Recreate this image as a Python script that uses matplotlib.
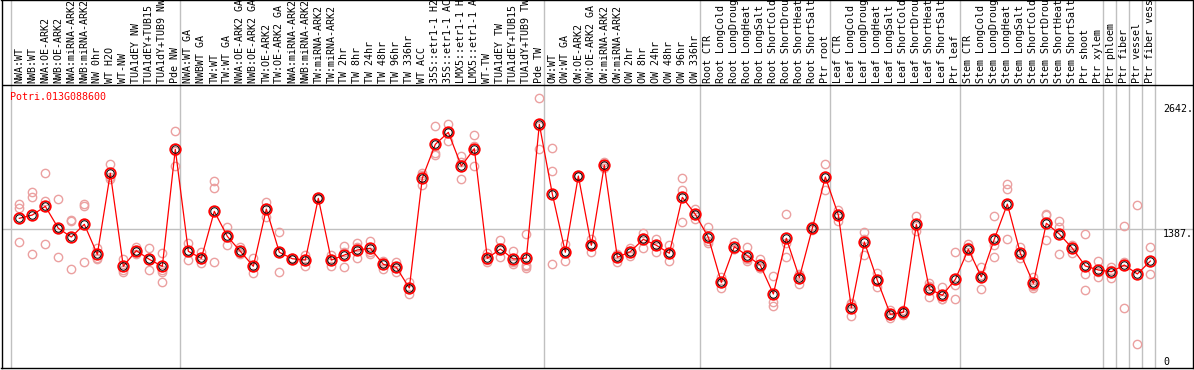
import matplotlib
matplotlib.use("Agg")
import matplotlib.pyplot as plt

# sample labels, one per column
labels = [
    # NW block
    "NWA:WT", "NWB:WT", "NWA:OE-ARK2", "NWB:OE-ARK2", "NWA:miRNA-ARK2",
    "NWB:miRNA-ARK2", "NW 0hr", "WT H2O", "WT-NW", "TUA1dEY NW",
    "TUA1dEY+TUB15 NW", "TUA1dY+TUB9 NW", "Pde NW",
    # TW block
    "NWA:WT GA", "NWBWT GA", "TW:WT", "TW:WT GA", "NWA:OE-ARK2 GA",
    "NWB:OE-ARK2 GA", "TW:OE-ARK2", "TW:OE-ARK2 GA", "NWA:miRNA-ARK2",
    "NWB:miRNA-ARK2", "TW:miRNA-ARK2", "TW:miRNA-ARK2", "TW 2hr", "TW 8hr",
    "TW 24hr", "TW 48hr", "TW 96hr", "TW 336hr", "WT ACC", "35S::etr1-1 H2O",
    "35S::etr1-1 ACC", "LMX5::etr1-1 H2O", "LMX5::etr1-1 ACC", "WT-TW",
    "TUA1dEY TW", "TUA1dEY+TUB15 TW", "TUA1dY+TUB9 TW", "Pde TW",
    # OW block
    "OW:WT", "OW:WT GA", "OW:OE-ARK2", "OW:OE-ARK2 GA", "OW:miRNA-ARK2",
    "OW:miRNA-ARK2", "OW 2hr", "OW 8hr", "OW 24hr", "OW 48hr", "OW 96hr",
    "OW 336hr",
    # root
    "Root CTR", "Root LongCold", "Root LongDrought", "Root LongHeat",
    "Root LongSalt", "Root ShortCold", "Root ShortDrought", "Root ShortHeat",
    "Root ShortSalt", "Ptr root",
    # leaf
    "Leaf CTR", "Leaf LongCold", "Leaf LongDrought", "Leaf LongHeat",
    "Leaf LongSalt", "Leaf ShortCold", "Leaf ShortDrought", "Leaf ShortHeat",
    "Leaf ShortSalt", "Ptr leaf",
    # stem
    "Stem CTR", "Stem LongCold", "Stem LongDrought", "Stem LongHeat",
    "Stem LongSalt", "Stem ShortCold", "Stem ShortDrought", "Stem ShortHeat",
    "Stem ShortSalt", "Ptr shoot", "Ptr xylem",
    "Ptr phloem", "Ptr fiber", "Ptr vessel", "Ptr fiber vessel",
]

# first column of each block (gray separators)
group_starts = [0, 13, 41, 53, 63, 73, 84, 85, 86, 87, 88]

gene = "Potri.013G088600"

# mean expression per sample
means = [
    1490, 1523, 1610, 1390, 1302, 1430, 1128, 1942, 1008, 1165, 1078, 1008, 2183,
    1159, 1088, 1560, 1309, 1159, 1008, 1583, 1149, 1084, 1071, 1691, 1071, 1121,
    1172, 1189, 1028, 998, 790, 1895, 2233, 2353, 2015, 2189, 1088, 1182, 1081,
    1091, 2434,
    1734, 1149, 1915, 1219, 2022, 1098, 1155, 1279, 1219, 1139, 1701, 1530,
    1299, 847, 1205, 1114, 1018, 730, 1289, 894, 1390, 1905,
    1523, 592, 1252, 867, 526, 546, 1430, 780, 717, 877,
    1179, 901, 1282, 1633, 1139, 837, 1440, 1332, 1189, 1011, 971,
    954, 1021, 931, 1061,
]

# replicate values per sample
reps = [
    [1633, 1590, 1249], [1757, 1707, 1131], [1942, 1664, 1232], [1681, 1390, 1098],
    [1473, 1463, 978], [1630, 1613, 1048], [1189, 1094, 1078], [2035, 1908, 1881],
    [1078, 971, 954], [1200, 1160, 1135], [1189, 1078, 968], [1139, 971, 954, 847],
    [2363, 2170, 2015],
    [1245, 1160, 1068], [1149, 1080, 1038], [1864, 1791, 1048], [1406, 1300, 1222],
    [1205, 1139, 1135], [1088, 1000, 938], [1654, 1590, 1506], [1349, 1147, 951],
    [1090, 1082, 1080], [1121, 1080, 1011], [1700, 1690, 1685], [1121, 1080, 1011],
    [1212, 1155, 1004], [1239, 1205, 1088], [1262, 1155, 1135], [1061, 1045, 978],
    [1054, 995, 948], [853, 790, 727], [1942, 1925, 1824], [2414, 2149, 2125],
    [2434, 2360, 2266], [2115, 2058, 1881], [2323, 2219, 2012], [1139, 1070, 1054],
    [1272, 1176, 1098], [1162, 1054, 1031], [1329, 1021, 1008, 994], [2695, 2420, 2186],
    [2193, 1962, 1028], [1229, 1150, 1064], [1920, 1913, 1912], [1282, 1220, 1155],
    [2058, 2020, 1992], [1131, 1105, 1054], [1189, 1160, 1114], [1345, 1290, 1195],
    [1282, 1225, 1149], [1222, 1130, 1064], [1892, 1771, 1450], [1583, 1525, 1483],
    [1400, 1260, 1239], [904, 845, 793], [1255, 1180, 1179], [1199, 1080, 1064],
    [1078, 990, 988], [911, 647, 609], [1533, 1240, 1098], [930, 921, 830],
    [1413, 1385, 1372], [2032, 1910, 1771],
    [1573, 1530, 1466], [637, 630, 509], [1352, 1280, 1121], [938, 866, 797],
    [569, 517, 492], [567, 552, 519], [1513, 1415, 1362], [837, 806, 697],
    [797, 680, 677], [1149, 820, 677],
    [1228, 1205, 1104], [1004, 922, 777], [1513, 1222, 1104], [1831, 1781, 1279],
    [1199, 1130, 1088], [904, 815, 793], [1530, 1520, 1269], [1463, 1406, 1131],
    [1222, 1205, 1139], [1332, 928, 770], [1061, 950, 904],
    [998, 975, 888], [1416, 1048, 586], [1623, 225], [1199, 931],
]

ticks = [2642, 1387, 0]
tick_text = ["2642.", "1387.", "0"]

mono = "DejaVu Sans Mono"
fs = 7.2
grey = "#c0c0c0"

fig = plt.figure(figsize=(11.94, 3.70), dpi=100)
ax = fig.add_axes([1.5 / 1194, 2 / 370, 1191.5 / 1194, 368 / 370])
ax.set_xlim(-1.37, 90.28)
ax.set_ylim(-13, 3682)
ax.set_xticks([])
ax.set_yticks([])
for s in ax.spines.values():
    s.set_color("black")
    s.set_linewidth(1)

# separators and grid
for g in group_starts:
    ax.axvline(g - 0.66, color=grey, lw=1, zorder=1)
ax.axhline(ticks[1], color=grey, lw=1, zorder=1)
ax.axhline(2828, color="black", lw=1, zorder=2)

x = list(range(len(labels)))

# replicates
for i, r in enumerate(reps):
    ax.plot([i] * len(r), r, "o", ms=6, mfc="none", mec="#eba0a0", mew=1, zorder=3)

# mean line + markers
ax.plot(x, means, "-", color="#ff0000", lw=0.9, zorder=4)
ax.plot(x, means, "o", ms=7.6, mfc="none", mec="#ff0000", mew=1.3, zorder=5)
ax.plot(x, means, "o", ms=5.4, mfc="none", mec="black", mew=0.7, zorder=6)

# column labels
for i, lab in enumerate(labels):
    ax.text(i, 2848, lab, rotation=90, ha="center", va="bottom",
            family=mono, fontsize=fs, color="black", clip_on=True)

ax.text(-0.72, 2708, gene, ha="left", va="center", family=mono,
        fontsize=fs, color="#ff0000")

# value labels on the right
tr = ax.get_yaxis_transform()
for v, t in zip(ticks, tick_text):
    ax.text(0.975, v, t, transform=tr, ha="left",
            va="bottom" if v == 0 else "top",
            family=mono, fontsize=fs, color="black")

fig.savefig("out.png", dpi=100)
